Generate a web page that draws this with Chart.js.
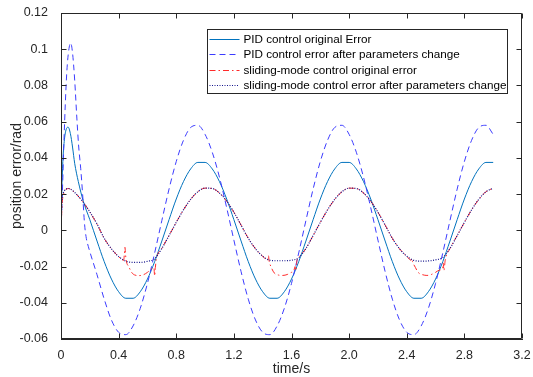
<!DOCTYPE html>
<html>
<head>
<meta charset="utf-8">
<script src="https://cdn.jsdelivr.net/npm/chart.js@4/dist/chart.umd.min.js"></script>
<style>
html,body{margin:0;padding:0;background:#fff;}
#wrap{width:533px;height:377px;position:relative;}
canvas{display:block;}
</style>
</head>
<body>
<div id="wrap"><canvas id="c" width="533" height="377"></canvas></div>
<script>
// ---------------- data ----------------
const seriesLabels = [
  'PID control original Error',
  'PID control error after parameters change',
  'sliding-mode control original error',
  'sliding-mode control error after parameters change'
];

const xTicks = [0, 0.4, 0.8, 1.2, 1.6, 2.0, 2.4, 2.8, 3.2];
const xTickLabels = ['0', '0.4', '0.8', '1.2', '1.6', '2.0', '2.4', '2.8', '3.2'];
const yTicks = [-0.06, -0.04, -0.02, 0, 0.02, 0.04, 0.06, 0.08, 0.1, 0.12];
const yTickLabels = ['-0.06', '-0.04', '-0.02', '0', '0.02', '0.04', '0.06', '0.08', '0.1', '0.12'];

// common time grid after the start-up transient (s)
const tGrid = [
  0.25, 0.30, 0.35, 0.40, 0.45, 0.50, 0.55, 0.60, 0.65, 0.70,
  0.75, 0.80, 0.85, 0.90, 0.95, 1.00, 1.05, 1.10, 1.15, 1.20,
  1.25, 1.30, 1.35, 1.40, 1.45, 1.50, 1.55, 1.60, 1.65, 1.70,
  1.75, 1.80, 1.85, 1.90, 1.95, 2.00, 2.05, 2.10, 2.15, 2.20,
  2.25, 2.30, 2.35, 2.40, 2.45, 2.50, 2.55, 2.60, 2.65, 2.70,
  2.75, 2.80, 2.85, 2.90, 2.95, 3.00
];

// PID control original error
const pidOrigStartT = [0, 0.005, 0.014, 0.025, 0.035, 0.049, 0.065, 0.08, 0.095, 0.12, 0.155, 0.20];
const pidOrigStartY = [0, 0.020, 0.040, 0.051, 0.0555, 0.057, 0.0535, 0.046, 0.037, 0.027, 0.016, 0.0059];
const pidOrigGridY = [
  -0.0059, -0.0173, -0.0269, -0.0339, -0.0375, -0.0375, -0.0339, -0.0269, -0.0173, -0.0059,
   0.0059,  0.0173,  0.0269,  0.0339,  0.0375,  0.0375,  0.0339,  0.0269,  0.0173,  0.0059,
  -0.0059, -0.0173, -0.0269, -0.0339, -0.0375, -0.0375, -0.0339, -0.0269, -0.0173, -0.0059,
   0.0059,  0.0173,  0.0269,  0.0339,  0.0375,  0.0375,  0.0339,  0.0269,  0.0173,  0.0059,
  -0.0059, -0.0173, -0.0269, -0.0339, -0.0375, -0.0375, -0.0339, -0.0269, -0.0173, -0.0059,
   0.0059,  0.0173,  0.0269,  0.0339,  0.0375,  0.0375
];

// PID control error after parameters change
const pidNewStartT = [0, 0.01, 0.02, 0.03, 0.04, 0.05, 0.067, 0.08, 0.095, 0.11, 0.123, 0.137, 0.15, 0.164, 0.176, 0.19, 0.20];
const pidNewStartY = [0, 0.022, 0.048, 0.070, 0.087, 0.097, 0.1035, 0.098, 0.083, 0.062, 0.046, 0.034, 0.020, 0.003, -0.0045, -0.009, -0.0118];
const pidNewGridY = [
  -0.0245, -0.0380, -0.0495, -0.0563, -0.0576, -0.0528, -0.0431, -0.0293, -0.0125,  0.0054,
   0.0228,  0.0380,  0.0497,  0.0568,  0.0580,  0.0530,  0.0431,  0.0293,  0.0125, -0.0054,
  -0.0228, -0.0380, -0.0495, -0.0563, -0.0576, -0.0528, -0.0431, -0.0293, -0.0125,  0.0054,
   0.0228,  0.0380,  0.0497,  0.0568,  0.0580,  0.0530,  0.0431,  0.0293,  0.0125, -0.0054,
  -0.0228, -0.0380, -0.0495, -0.0563, -0.0576, -0.0528, -0.0431, -0.0293, -0.0125,  0.0054,
   0.0228,  0.0380,  0.0497,  0.0568,  0.0580,  0.0530
];

// sliding-mode control original error (with chattering spikes)
const smcOrigT = [
  0, 0.004, 0.008, 0.015, 0.025, 0.035, 0.05, 0.07, 0.10, 0.15,
  0.20, 0.25, 0.30, 0.35, 0.40, 0.435, 0.440, 0.444, 0.448, 0.455,
  0.47, 0.49, 0.51, 0.54, 0.57, 0.60, 0.625, 0.645, 0.650, 0.655,
  0.662, 0.70, 0.75, 0.80, 0.85, 0.90, 0.95, 1.00, 1.05, 1.10,
  1.15, 1.20, 1.25, 1.30, 1.35, 1.40, 1.435, 1.440, 1.445, 1.46,
  1.48, 1.51, 1.54, 1.57, 1.60, 1.615, 1.625, 1.630, 1.638, 1.65,
  1.70, 1.75, 1.80, 1.85, 1.90, 1.95, 2.00, 2.05, 2.10, 2.15,
  2.20, 2.25, 2.30, 2.35, 2.40, 2.430, 2.435, 2.440, 2.46, 2.48,
  2.51, 2.54, 2.57, 2.60, 2.625, 2.648, 2.653, 2.658, 2.667, 2.70,
  2.75, 2.80, 2.85, 2.90, 2.95, 3.00
];
const smcOrigY = [
  0, 0.008, 0.015, 0.019, 0.0215, 0.0226, 0.0231, 0.0225, 0.0205, 0.0160,
  0.0101, 0.0034, -0.0044, -0.0102, -0.0145, -0.0166, -0.0130, -0.0094, -0.0135, -0.0175,
  -0.0200, -0.0232, -0.0246, -0.0250, -0.0246, -0.0232, -0.0215, -0.0206, -0.0252, -0.0205,
  -0.0160, -0.0100, -0.0029, 0.0044, 0.0113, 0.0171, 0.0213, 0.0233, 0.0231, 0.0206,
  0.0161, 0.0100, 0.0029, -0.0044, -0.0102, -0.0143, -0.0165, -0.0140, -0.0170, -0.0205,
  -0.0235, -0.0247, -0.0249, -0.0244, -0.0232, -0.0226, -0.0200, -0.0222, -0.0166, -0.0150,
  -0.0100, -0.0029, 0.0044, 0.0113, 0.0171, 0.0213, 0.0233, 0.0231, 0.0206, 0.0161,
  0.0100, 0.0029, -0.0044, -0.0102, -0.0143, -0.0165, -0.0155, -0.0172, -0.0205, -0.0233,
  -0.0245, -0.0249, -0.0244, -0.0232, -0.0220, -0.0210, -0.0180, -0.0222, -0.0165, -0.0100,
  -0.0029, 0.0044, 0.0113, 0.0171, 0.0213, 0.0233
];

// sliding-mode control error after parameters change
const smcNewStartT = [0, 0.004, 0.008, 0.015, 0.025, 0.035, 0.05, 0.07, 0.10, 0.15, 0.20];
const smcNewStartY = [0, 0.011, 0.018, 0.0205, 0.022, 0.0228, 0.0231, 0.0226, 0.0205, 0.0160, 0.0102];
const smcNewGridY = [
   0.0035, -0.0044, -0.0102, -0.0145, -0.0170, -0.0177, -0.0177, -0.0171, -0.0157, -0.0100,
  -0.0029,  0.0044,  0.0113,  0.0171,  0.0213,  0.0233,  0.0231,  0.0206,  0.0161,  0.0100,
   0.0029, -0.0044, -0.0102, -0.0143, -0.0165, -0.0168, -0.0168, -0.0165, -0.0152, -0.0100,
  -0.0029,  0.0044,  0.0113,  0.0171,  0.0213,  0.0233,  0.0231,  0.0206,  0.0161,  0.0100,
   0.0029, -0.0044, -0.0102, -0.0143, -0.0166, -0.0170, -0.0169, -0.0163, -0.0150, -0.0100,
  -0.0029,  0.0044,  0.0113,  0.0171,  0.0213,  0.0233
];

// ---------------- helpers ----------------
function toPoints(t, y) { return t.map((v, i) => ({ x: v, y: y[i] })); }

const FONT = '"Liberation Sans", Arial, Helvetica, sans-serif';
const AXIS_COLOR = '#262626';

const boxPlugin = {
  id: 'matlabBox',
  afterDatasetsDraw(chart) {
    const { ctx, chartArea: a, scales } = chart;
    ctx.save();
    ctx.strokeStyle = AXIS_COLOR;
    ctx.lineWidth = 1;
    ctx.setLineDash([]);
    const L = Math.round(a.left) + 0.5, R = Math.round(a.right) - 0.5;
    const T = Math.round(a.top) + 0.5, B = Math.round(a.bottom) - 0.5;
    ctx.beginPath();
    ctx.moveTo(L, T); ctx.lineTo(R, T); ctx.lineTo(R, B); ctx.lineTo(L, B); ctx.closePath();
    ctx.stroke();
    const tl = 5;
    ctx.beginPath();
    xTicks.forEach(v => {
      const px = Math.round(scales.x.getPixelForValue(v)) + 0.5;
      ctx.moveTo(px, B); ctx.lineTo(px, B - tl);
      ctx.moveTo(px, T); ctx.lineTo(px, T + tl);
    });
    yTicks.forEach(v => {
      const py = Math.round(scales.y.getPixelForValue(v)) + 0.5;
      ctx.moveTo(L, py); ctx.lineTo(L + tl, py);
      ctx.moveTo(R, py); ctx.lineTo(R - tl, py);
    });
    ctx.stroke();
    ctx.restore();
  },
  afterDraw(chart) {
    const { ctx, chartArea: a } = chart;
    const w = 300, h = 64;
    const x0 = Math.round(a.right) - 15 - w + 0.5;
    const y0 = Math.round(a.top) + 16 + 0.5;
    ctx.save();
    ctx.fillStyle = '#ffffff';
    ctx.fillRect(x0, y0, w, h);
    ctx.strokeStyle = AXIS_COLOR;
    ctx.lineWidth = 1;
    ctx.setLineDash([]);
    ctx.strokeRect(x0, y0, w, h);
    chart.data.datasets.forEach((ds, i) => {
      const y = Math.round(y0 + 9.5 + i * 15.3) + 0.5;
      ctx.strokeStyle = ds.borderColor;
      ctx.lineWidth = ds.borderWidth;
      ctx.setLineDash(ds.borderDash || []);
      ctx.beginPath();
      ctx.moveTo(x0 + 2, y);
      ctx.lineTo(x0 + 32, y);
      ctx.stroke();
      ctx.setLineDash([]);
      ctx.fillStyle = '#000000';
      ctx.font = '11.7px ' + FONT;
      ctx.textBaseline = 'middle';
      ctx.textAlign = 'left';
      ctx.fillText(ds.label, x0 + 36, y);
    });
    ctx.restore();
  }
};

const ctx = document.getElementById('c').getContext('2d');
new Chart(ctx, {
  type: 'line',
  data: {
    datasets: [
      {
        label: seriesLabels[0],
        data: toPoints(pidOrigStartT.concat(tGrid), pidOrigStartY.concat(pidOrigGridY)),
        borderColor: '#0072BD', borderWidth: 1, borderDash: [], order: 4
      },
      {
        label: seriesLabels[1],
        data: toPoints(pidNewStartT.concat(tGrid), pidNewStartY.concat(pidNewGridY)),
        borderColor: '#3c3cff', borderWidth: 1, borderDash: [6, 4], order: 3
      },
      {
        label: seriesLabels[2],
        data: toPoints(smcOrigT, smcOrigY),
        borderColor: '#ff2a2a', borderWidth: 1, borderDash: [6, 3, 1.5, 3], order: 2
      },
      {
        label: seriesLabels[3],
        data: toPoints(smcNewStartT.concat(tGrid), smcNewStartY.concat(smcNewGridY)),
        borderColor: '#14148c', borderWidth: 1.2, borderDash: [1, 1.5], order: 1
      }
    ]
  },
  options: {
    responsive: false,
    animation: false,
    devicePixelRatio: 1,
    layout: { padding: { left: 0, top: 13, right: 11, bottom: 0 } },
    elements: {
      point: { radius: 0, hoverRadius: 0 },
      line: { tension: 0.4, cubicInterpolationMode: 'monotone', fill: false }
    },
    plugins: { legend: { display: false }, tooltip: { enabled: false } },
    scales: {
      x: {
        type: 'linear', min: 0, max: 3.2,
        afterBuildTicks: s => { s.ticks = xTicks.map(v => ({ value: v })); },
        afterFit: s => { s.height = 38; },
        ticks: {
          autoSkip: false, maxRotation: 0, padding: 1,
          color: AXIS_COLOR, font: { family: FONT, size: 12.5 },
          callback: (v, i) => xTickLabels[i]
        },
        grid: { display: false },
        border: { display: true, color: AXIS_COLOR, width: 1 },
        title: {
          display: true, text: 'time/s', color: AXIS_COLOR,
          font: { family: FONT, size: 14 }, padding: { top: 0, bottom: -1 }
        }
      },
      y: {
        type: 'linear', min: -0.06, max: 0.12,
        afterBuildTicks: s => { s.ticks = yTicks.map(v => ({ value: v })); },
        afterFit: s => { s.width = 61; },
        ticks: {
          autoSkip: false, padding: 5,
          color: AXIS_COLOR, font: { family: FONT, size: 12.5 },
          callback: (v, i) => yTickLabels[i]
        },
        grid: { display: false },
        border: { display: true, color: AXIS_COLOR, width: 1 },
        title: {
          display: true, text: 'position error/rad', color: AXIS_COLOR,
          font: { family: FONT, size: 14 }, padding: { top: 9, bottom: 0 }
        }
      }
    }
  },
  plugins: [boxPlugin]
});
</script>
</body>
</html>
